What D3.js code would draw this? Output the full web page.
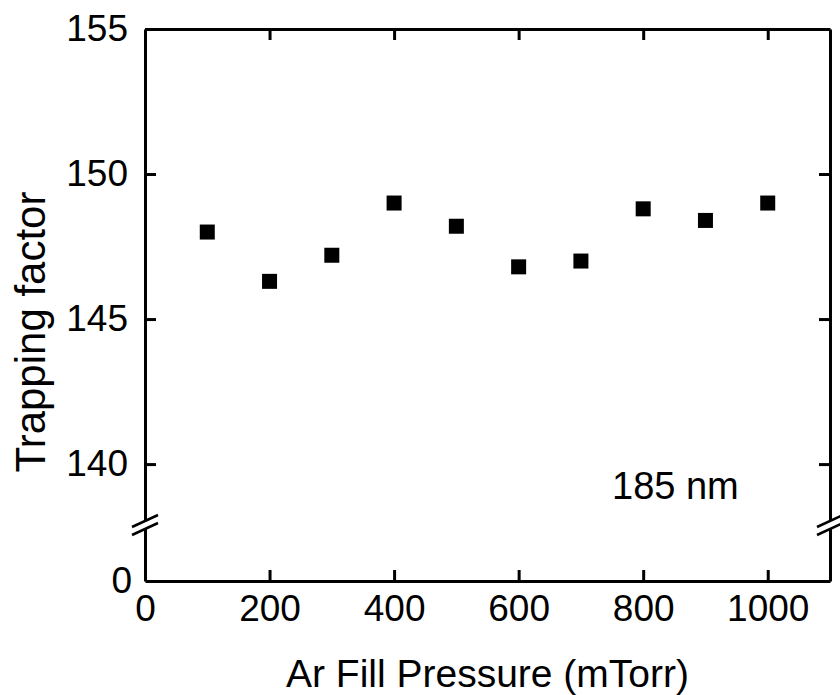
<!DOCTYPE html>
<html>
<head>
	<title></title>
	<script src="https://d3js.org/d3.v7.min.js"></script>
	<style>
		body { margin: 0; background: #fff; }
		text { font-family: "Liberation Sans", Arial, sans-serif; fill: #000; }
	</style>
</head>
<body>
<div id="chart"></div>
</body>
<script type="text/javascript">
var pressure = [100, 200, 300, 400, 500, 600, 700, 800, 900, 1000];
var trapping = [148.0, 146.3, 147.2, 149.0, 148.2, 146.8, 147.0, 148.8, 148.4, 149.0];
var xTicks = [0, 200, 400, 600, 800, 1000];
var yTicksUpper = [140, 145, 150, 155];
var yTicksLower = [0];

var width = 840,
	height = 695,
	mLeft = 145, mRight = 830, mTop = 29, mBottom = 581,
	breakAt = 137.9;

var x = d3.scaleLinear().domain([0, 1100]).range([mLeft, mRight]);
var yUp = d3.scaleLinear().domain([breakAt, 155]).range([525, mTop]);
var yLow = d3.scaleLinear().domain([0, 2]).range([mBottom, 525]);
var fmt = d3.format('d');

var svg = d3.select('#chart')
	.append('svg')
		.attr('width', width)
		.attr('height', height);

function styleAxis(g, fs) {
	g.select('.domain').attr('stroke', '#000').attr('stroke-width', 3);
	g.selectAll('.tick line').attr('stroke', '#000').attr('stroke-width', 3);
	g.selectAll('.tick text').style('font-size', fs + 'px').attr('fill', '#000');
}

// bottom + top
svg.append('g')
	.attr('transform', 'translate(0,' + mBottom + ')')
	.call(d3.axisBottom(x).tickValues(xTicks).tickFormat(fmt).tickSizeInner(-11).tickSizeOuter(0).tickPadding(14))
	.call(styleAxis, 37);
svg.append('g')
	.attr('transform', 'translate(0,' + mTop + ')')
	.call(d3.axisTop(x).tickValues(xTicks.slice(1)).tickSizeInner(-11).tickSizeOuter(0).tickFormat(''))
	.call(styleAxis, 37);

// left, broken
svg.append('g')
	.attr('transform', 'translate(' + mLeft + ',0)')
	.call(d3.axisLeft(yUp).tickValues(yTicksUpper).tickFormat(fmt).tickSizeInner(-11).tickSizeOuter(0).tickPadding(17))
	.call(styleAxis, 37);
svg.append('g')
	.attr('transform', 'translate(' + mLeft + ',0)')
	.call(d3.axisLeft(yLow).tickValues(yTicksLower).tickFormat(fmt).tickSizeInner(0).tickSizeOuter(0).tickPadding(13))
	.call(styleAxis, 37);

// right, broken
svg.append('g')
	.attr('transform', 'translate(' + mRight + ',0)')
	.call(d3.axisRight(yUp).tickValues(yTicksUpper.slice(0, 3)).tickSizeInner(-11).tickSizeOuter(0).tickFormat(''))
	.call(styleAxis, 37);
svg.append('g')
	.attr('transform', 'translate(' + mRight + ',0)')
	.call(d3.axisRight(yLow).tickValues([]).tickSizeOuter(0))
	.call(styleAxis, 37);

// break marks
[mLeft, mRight].forEach(function(ax) {
	var yb = yUp(breakAt);
	var g = svg.append('g');
	g.append('polygon')
		.attr('points', [[ax - 13, yb + 10], [ax + 13, yb - 2], [ax + 13, yb - 10], [ax - 13, yb + 2]].join(' '))
		.attr('fill', '#fff');
	[-4, 4].forEach(function(o) {
		g.append('line')
			.attr('x1', ax - 13).attr('y1', yb + 6 + o)
			.attr('x2', ax + 13).attr('y2', yb - 6 + o)
			.attr('stroke', '#000').attr('stroke-width', 2.5);
	});
});

// points
svg.append('g').selectAll('rect')
	.data(pressure)
	.enter()
	.append('rect')
		.attr('x', function(d) { return x(d) - 7.5; })
		.attr('y', function(d, i) { return yUp(trapping[i]) - 7.5; })
		.attr('width', 15)
		.attr('height', 15)
		.attr('fill', '#000');

// labels
svg.append('text')
	.attr('x', x(750))
	.attr('y', yUp(138.8))
	.style('font-size', '38px')
	.text('185 nm');

svg.append('text')
	.attr('x', (mLeft + mRight) / 2)
	.attr('y', 687)
	.attr('text-anchor', 'middle')
	.style('font-size', '39px')
	.text('Ar Fill Pressure (mTorr)');

svg.append('text')
	.attr('transform', 'translate(45,332) rotate(-90)')
	.attr('text-anchor', 'middle')
	.style('font-size', '42px')
	.text('Trapping factor');
</script>
</html>
